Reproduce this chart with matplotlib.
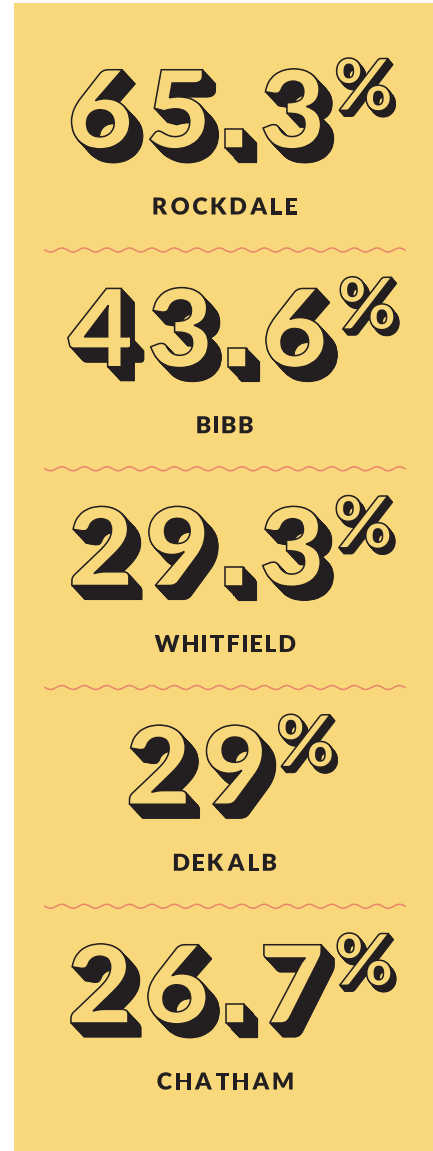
import numpy as np
import matplotlib
matplotlib.use("Agg")
import matplotlib.pyplot as plt
from matplotlib.font_manager import FontProperties
from matplotlib.textpath import TextPath
from matplotlib.patches import PathPatch, Rectangle
from matplotlib.transforms import Affine2D

# data
counties = ["ROCKDALE", "BIBB", "WHITFIELD", "DEKALB", "CHATHAM"]
pct = [65.3, 43.6, 29.3, 29, 26.7]

W, H = 433, 1151
YELLOW = "#F9D87B"
INK = "#231F20"
WAVE = "#E8856B"

NUM_FONT = FontProperties(family="Lato", weight="black")
DOT_FONT = FontProperties(family="DejaVu Sans", weight="bold")  # square period
LBL_FONT = FontProperties(family="Lato", weight="heavy")

fig = plt.figure(figsize=(W / 100, H / 100), dpi=100)
ax = fig.add_axes([0, 0, 1, 1])
ax.set_xlim(0, W)
ax.set_ylim(H, 0)
ax.axis("off")
ax.add_patch(Rectangle((14, 3), W - 14, H - 3, facecolor=YELLOW,
                       edgecolor="none", zorder=0))


def glyph(ch, font):
    return TextPath((0, 0), ch, size=100, prop=font)


def place(path, scale, x, base, stretch=1.0):
    """ink left edge at x, baseline at base (pixel coords, y down)"""
    ext = path.get_extents()
    tr = (Affine2D().translate(-ext.x0, 0)
          .scale(scale * stretch, -scale).translate(x, base))
    return tr.transform_path(path)


def extrude(path, dx, dy, steps):
    for k in range(1, steps + 1):
        t = k / steps
        p = Affine2D().translate(dx * t, dy * t).transform_path(path)
        ax.add_patch(PathPatch(p, fc=INK, ec=INK, lw=0.8, zorder=2))
    ax.add_patch(PathPatch(path, fc=YELLOW, ec=INK, lw=1.1, zorder=3))


cap_num = glyph("0", NUM_FONT).get_extents().height
cap_lbl = glyph("H", LBL_FONT).get_extents().height
pct_h = glyph("%", NUM_FONT).get_extents().height
dot_h = glyph(".", DOT_FONT).get_extents().height

NUM_H = 80      # digit height, px
STRETCH = 1.05
DOT_H = 19
PCT_H = 53
GAP = 20
CENTER_X = 231

for i, (name, v) in enumerate(zip(counties, pct)):
    top = 68 + i * 218.75
    base = top + NUM_H
    s = NUM_H / cap_num
    chars = list(f"{v:g}")
    items = []
    for c in chars:
        if c == ".":
            items.append((glyph(c, DOT_FONT), DOT_H / dot_h, 1.0))
        else:
            items.append((glyph(c, NUM_FONT), s, STRETCH))
    widths = [p.get_extents().width * sc * st for p, sc, st in items]
    sp = PCT_H / pct_h
    ppath = glyph("%", NUM_FONT)
    pw = ppath.get_extents().width * sp
    total = sum(widths) + GAP * (len(chars) - 1) + 16 + pw
    x = CENTER_X - total / 2
    for (p, sc, st), w in zip(items, widths):
        extrude(place(p, sc, x, base, st), 13, 14, 45)
        x += w + GAP
    x += 16 - GAP
    pext = ppath.get_extents()
    extrude(place(ppath, sp, x, top - 10 + PCT_H + pext.y0 * sp), 5, 6, 16)

    # label with tracking
    ls = 17 / cap_lbl
    lpaths = [glyph(c, LBL_FONT) for c in name]
    adv = [p.get_extents().width * ls for p in lpaths]
    track = 4.0
    lw_tot = sum(adv) + track * (len(name) - 1)
    lx = 225 - lw_tot / 2
    lbase = top + 138 + 8.5
    for p, a in zip(lpaths, adv):
        ax.add_patch(PathPatch(place(p, ls, lx, lbase), fc=INK, ec="none", zorder=3))
        lx += a + track

    # wavy separator
    if i < len(counties) - 1:
        yw = top + 182
        xs = np.linspace(45, 405, 800)
        ax.plot(xs, yw + 2 * np.sin(2 * np.pi * (xs - 45) / 22.5),
                color=WAVE, lw=1.1, zorder=1)

fig.savefig("out.png", dpi=100, facecolor="white")
